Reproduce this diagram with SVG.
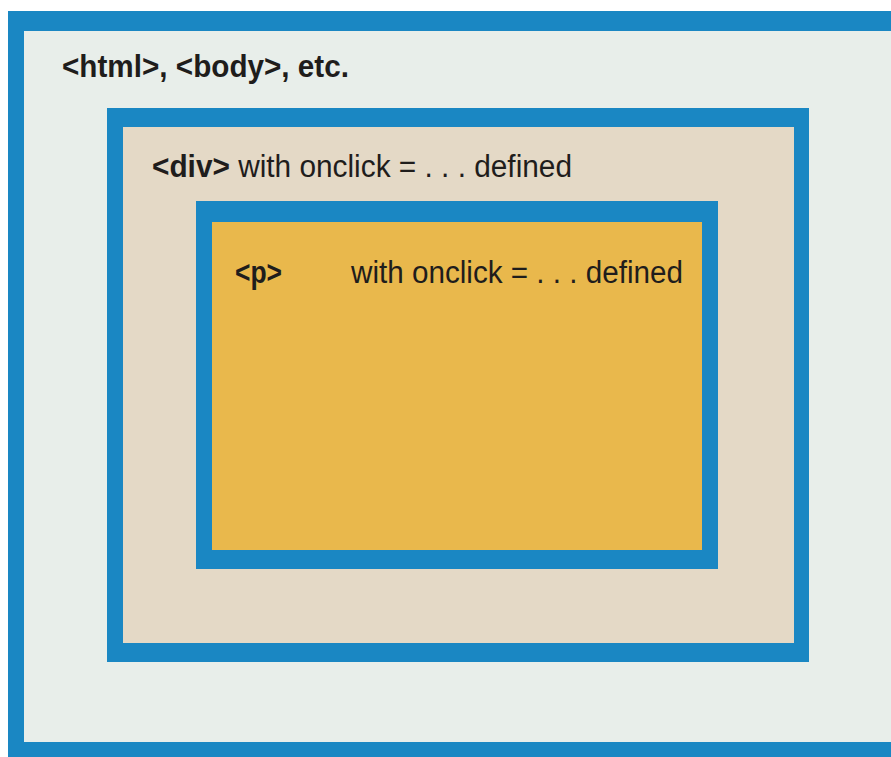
<svg xmlns="http://www.w3.org/2000/svg" width="891" height="757" viewBox="0 0 891 757">
<style>
.frame{fill:#1a87c3}
.t{font-family:"Liberation Sans",Arial,sans-serif;font-size:31px;fill:#1f1d1c}
.b{font-weight:bold}
</style>
<rect x="0" y="0" width="891" height="757" fill="#ffffff"/>
<g id="html">
<rect class="frame" x="8" y="11" width="900" height="760"/>
<rect x="24" y="31" width="880" height="711" fill="#e8eeea"/>
<text class="t b" x="62" y="77" textLength="287" lengthAdjust="spacingAndGlyphs">&lt;html&gt;, &lt;body&gt;, etc.</text>
</g>
<g id="div">
<rect class="frame" x="107" y="108" width="702" height="554"/>
<rect x="123" y="127" width="671" height="516" fill="#e4d9c6"/>
<text class="t" x="152" y="177" textLength="420" lengthAdjust="spacingAndGlyphs"><tspan class="b">&lt;div&gt;</tspan> with onclick = . . . defined</text>
</g>
<g id="p">
<rect class="frame" x="196" y="201" width="522" height="368"/>
<rect x="212" y="222" width="490" height="328" fill="#e9b84c"/>
<text class="t b" x="235" y="283" textLength="47" lengthAdjust="spacingAndGlyphs">&lt;p&gt;</text>
<text class="t" x="351" y="283" textLength="332" lengthAdjust="spacingAndGlyphs">with onclick = . . . defined</text>
</g>
<g id="connectors"/>
</svg>
